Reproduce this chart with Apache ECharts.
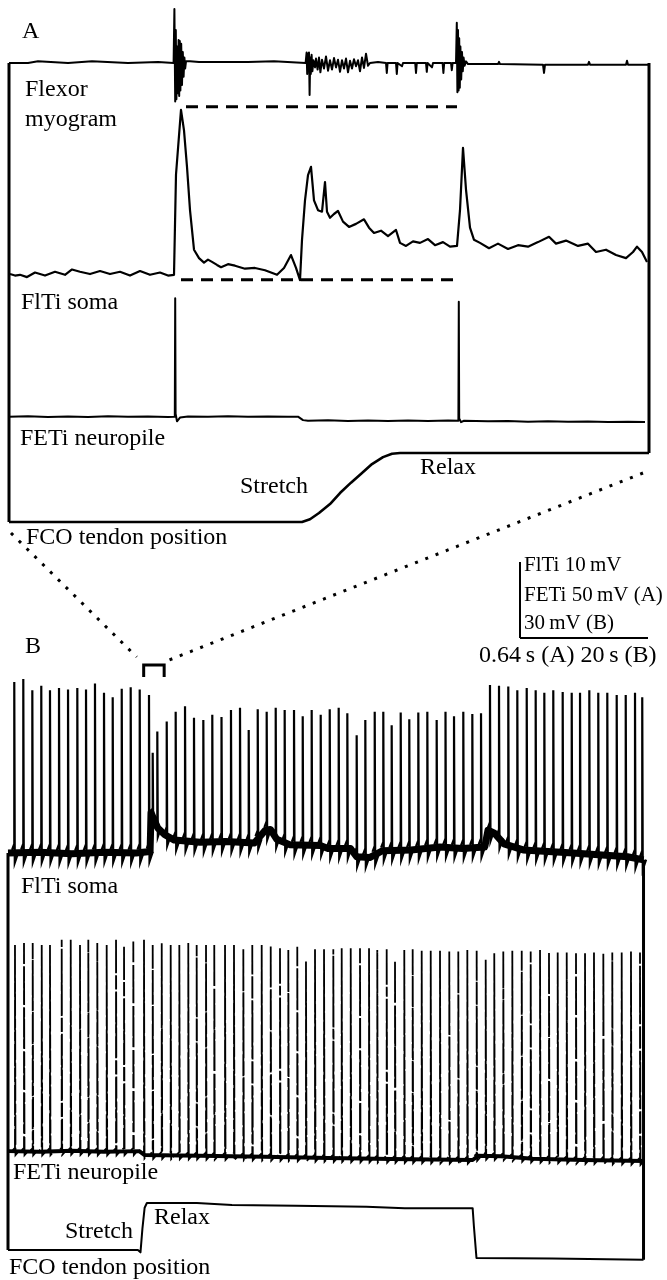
<!DOCTYPE html>
<html>
<head>
<meta charset="utf-8">
<script src="https://cdn.jsdelivr.net/npm/echarts@6.0.0/dist/echarts.min.js"></script>
<style>
html, body { margin: 0; padding: 0; background: #fff; }
#chart { width: 667px; height: 1280px; }
</style>
</head>
<body>
<div id="chart"></div>
<script>
// ---- panel A (time in s, 0.64 s scale bar) ----
// flexor myogram, arbitrary units, baseline 0
var myogramA = [
  [0.005, 0], [0.10, 0], [0.15, 0.03], [0.16, 0], [0.30, 0], [0.42, 0.03], [0.43, 0], [0.60, 0], [0.75, 0.02], [0.76, 0], [0.828, 0],
  [0.832, 0.98], [0.836, -0.7], [0.839, 0.6], [0.842, -0.66], [0.846, 0.3], [0.850, -0.55], [0.853, 0.42], [0.856, -0.6], [0.859, 0.4],
  [0.862, -0.5], [0.866, 0.35], [0.870, -0.4], [0.874, 0.2], [0.878, -0.25], [0.882, 0.1], [0.886, -0.1], [0.890, 0.03], [0.895, 0],
  [0.91, 0.03], [0.915, 0], [0.955, 0.02], [0.96, 0], [1.06, 0.02], [1.065, 0], [1.20, 0.02], [1.205, 0], [1.33, 0.03], [1.335, 0], [1.488, 0],
  [1.493, 0.19], [1.496, -0.2], [1.499, 0.17], [1.502, -0.15], [1.505, 0.19], [1.508, -0.58], [1.511, 0.1], [1.514, -0.2], [1.518, 0.15],
  [1.522, -0.15], [1.527, 0.05], [1.535, -0.08], [1.54, 0.08], [1.548, -0.12], [1.555, 0.1], [1.562, -0.17], [1.57, 0.06], [1.58, -0.1],
  [1.59, 0.12], [1.60, -0.14], [1.61, 0.05], [1.62, -0.12], [1.63, 0.09], [1.64, -0.08], [1.65, 0.06], [1.66, -0.16], [1.67, 0.05],
  [1.68, -0.1], [1.69, 0.08], [1.70, -0.17], [1.71, 0.04], [1.72, -0.1], [1.73, 0.07], [1.74, -0.06], [1.75, 0.05], [1.76, -0.15],
  [1.77, 0.1], [1.78, -0.09], [1.79, 0.17], [1.80, -0.05], [1.81, 0], [1.85, 0.02], [1.89, 0], [1.894, -0.18], [1.898, 0], [1.94, 0],
  [1.944, -0.2], [1.948, 0], [1.97, -0.06], [1.975, 0], [2.036, 0], [2.04, -0.18], [2.044, 0], [2.09, 0], [2.094, -0.16], [2.098, 0],
  [2.12, -0.08], [2.125, 0], [2.173, 0], [2.177, -0.18], [2.181, 0], [2.215, 0], [2.219, -0.13], [2.223, 0], [2.240, 0],
  [2.244, 0.73], [2.247, -0.53], [2.250, 0.6], [2.253, -0.5], [2.256, 0.45], [2.259, -0.45], [2.262, 0.3], [2.266, -0.3], [2.270, 0.2],
  [2.274, -0.15], [2.278, 0.1], [2.283, -0.05], [2.29, 0.03], [2.30, -0.02], [2.45, -0.02], [2.455, 0.02], [2.46, -0.02], [2.675, -0.03],
  [2.68, -0.18], [2.685, -0.03], [2.90, -0.03], [2.905, 0.02], [2.91, -0.03], [3.09, -0.03], [3.095, 0.04], [3.10, -0.03], [3.205, -0.03]
];
// FlTi soma, mV relative to rest
var fltiA = [
  [0.010, 0.1], [0.035, -0.1], [0.060, 0], [0.095, -0.3], [0.135, 0.3], [0.185, -0.1], [0.235, 0.4], [0.285, 0], [0.320, 0.7],
  [0.360, 0.4], [0.410, 0.1], [0.460, 0.5], [0.510, 0.1], [0.560, 0.4], [0.610, -0.1], [0.660, 0.5], [0.710, 0], [0.760, 0.3],
  [0.800, -0.1], [0.830, 0], [0.840, 13.2], [0.865, 21.7], [0.880, 19], [0.895, 14.2], [0.910, 8.5], [0.930, 3.3], [0.955, 2.2],
  [0.980, 1.6], [1.000, 2.0], [1.020, 1.7], [1.045, 1.3], [1.065, 1.0], [1.100, 1.4], [1.135, 1.2], [1.185, 0.8], [1.235, 0.9],
  [1.285, 0.6], [1.345, 0], [1.380, 0.9], [1.415, 2.6], [1.440, 0.9], [1.460, -0.7], [1.470, 4.6], [1.485, 9.8], [1.500, 13.1],
  [1.515, 14.2], [1.530, 9.8], [1.550, 8.5], [1.570, 8.3], [1.585, 12.2], [1.595, 8.3], [1.610, 7.5], [1.630, 8.0], [1.650, 8.4],
  [1.675, 7.0], [1.705, 6.3], [1.740, 6.7], [1.780, 7.3], [1.805, 6.2], [1.830, 5.5], [1.865, 5.8], [1.900, 5.1], [1.940, 5.9],
  [1.960, 4.2], [1.990, 3.8], [2.025, 4.4], [2.060, 4.2], [2.100, 4.7], [2.135, 3.9], [2.175, 4.3], [2.210, 3.7], [2.245, 3.8],
  [2.260, 8.5], [2.275, 16.7], [2.290, 11.2], [2.310, 6.2], [2.330, 4.6], [2.360, 4.2], [2.405, 3.5], [2.450, 4.1], [2.500, 3.4],
  [2.550, 3.9], [2.600, 3.7], [2.650, 4.3], [2.705, 5.0], [2.740, 4.1], [2.790, 4.5], [2.850, 3.8], [2.900, 4.1], [2.940, 3.0],
  [2.990, 3.3], [3.040, 2.6], [3.090, 2.2], [3.125, 3.0], [3.145, 3.7], [3.170, 3.0], [3.195, 1.7]
];
var peakLevelA = [[0.89, 22.1], [2.245, 22.1]];
var restLevelA = [[0.865, -0.65], [2.225, -0.65]];
// FETi neuropile, mV
var fetiA = [
  [0.005, 0], [0.10, 0.3], [0.20, -0.2], [0.30, 0.2], [0.40, -0.1], [0.50, 0.3], [0.60, 0], [0.70, 0.2], [0.80, -0.1], [0.834, 0],
  [0.836, 77.9], [0.838, 2], [0.845, -3.0], [0.860, -0.5], [0.90, 0.2], [1.00, 0], [1.10, 0.3], [1.20, 0], [1.30, 0.2], [1.40, 0],
  [1.45, 0.1], [1.475, -2.2], [1.50, -2.6], [1.60, -2.3], [1.70, -2.8], [1.80, -2.4], [1.90, -2.7], [2.00, -2.5], [2.10, -2.8],
  [2.20, -2.4], [2.252, -2.6], [2.254, 75.6], [2.256, -1], [2.265, -3.5], [2.28, -2.6], [2.40, -3.0], [2.50, -2.8], [2.60, -3.2],
  [2.70, -3.0], [2.80, -3.3], [2.90, -3.1], [3.00, -3.4], [3.10, -3.2], [3.185, -3.5]
];
// FCO tendon position, 0 = start, 1 = end of stretch
var fcoA = [
  [0.005, 0], [1.47, 0], [1.51, 0.04], [1.555, 0.13], [1.61, 0.26], [1.66, 0.42], [1.715, 0.57], [1.77, 0.71], [1.82, 0.84],
  [1.875, 0.94], [1.92, 0.99], [1.96, 1.0], [3.205, 1.0]
];

// ---- panel B (time in s, 20 s scale bar) ----
var fltiBBase = [
  [0, 0], [5, 0.1], [10, -0.1], [15, 0.1], [20, 0], [22.2, 0.2], [22.35, 5.3], [22.7, 4.6], [23.4, 3.3], [24.5, 2.4], [26, 1.7],
  [30, 1.4], [34, 1.5], [38.5, 1.3], [40.2, 3.0], [41, 3.1], [42, 1.8], [44, 1.1], [48.8, 1.0], [50, 0.6], [53.5, 0.6], [54.5, -0.5],
  [56.5, -0.6], [58.5, 0.3], [63, 0.4], [67.5, 0.8], [71, 0.6], [74.5, 0.8], [75, 3.0], [76, 2.6], [77.5, 1.2], [80.5, 0.4],
  [88.3, 0], [96.8, -0.5], [99.3, -0.9]
];
var fltiBSpikeT = [
  0.98, 2.39, 3.80, 5.20, 6.56, 7.97, 9.38, 10.83, 12.19, 13.59, 15.00, 16.36, 17.77, 19.17, 20.58, 22.03,
  22.61, 23.33, 24.80, 26.20, 27.66, 29.06, 30.52, 31.92, 33.36, 34.84, 36.25, 37.61, 39.02, 40.42, 41.83, 43.23, 44.69, 46.05, 47.45,
  48.86, 50.27, 51.67, 53.02, 54.48, 55.83, 57.30, 58.64, 59.95, 61.36, 62.70, 64.11, 65.52, 66.98, 68.36, 69.69, 71.14, 72.55, 73.91,
  75.31, 76.72, 78.17, 79.58, 81.05, 82.45, 83.80, 85.20, 86.67, 88.08, 89.38, 90.83, 92.23, 93.64, 95.11, 96.52, 97.97, 99.1
];
var fltiBSpikePk = [
  22.5, 22.9, 21.4, 22.0, 21.4, 21.7, 21.5, 21.7, 21.5, 22.3, 21.1, 20.5, 21.6, 21.8, 21.5, 20.8,
  13.2, 16.0, 17.3, 18.6, 19.3, 17.8, 17.5, 18.2, 17.9, 18.8, 19.1, 16.2, 18.9, 18.6, 19.1, 18.8, 18.8, 18.0, 18.8,
  18.2, 18.9, 19.1, 18.4, 15.5, 17.5, 18.6, 18.6, 16.8, 18.5, 17.6, 18.5, 18.6, 17.5, 18.6, 18.0, 18.6, 18.3, 18.4,
  22.1, 22.0, 21.9, 21.4, 21.7, 21.4, 21.1, 21.4, 21.2, 21.1, 21.1, 21.4, 21.1, 21.1, 20.8, 20.8, 21.1, 20.5
];
var fetiBBase = [
  [0, 0.2], [5, 0], [10, 0.3], [15, 0], [20.5, 0.2], [21.3, -1.3], [30, -1.6], [40, -2.0], [50, -2.5], [60, -2.9], [72.6, -3.3],
  [73.5, -1.6], [77, -1.8], [82, -2.8], [90, -3.3], [99.3, -3.7]
];
var fetiBSpikeT = [
  1.09, 2.50, 3.86, 5.27, 6.56, 8.39, 9.80, 11.25, 12.55, 13.95, 15.42, 16.88, 18.13, 19.58, 21.25, 22.61, 24.02, 25.42, 26.77,
  28.17, 29.48, 30.94, 32.23, 33.91, 35.31, 36.77, 38.17, 39.64, 41.05, 42.50, 43.80, 45.20, 46.56, 47.97, 49.38, 50.83, 52.14,
  53.55, 55.00, 56.41, 57.70, 59.17, 60.47, 61.92, 63.23, 64.64, 66.05, 67.50, 68.95, 70.36, 71.77, 73.23, 74.64, 75.98, 77.39,
  78.80, 80.27, 81.67, 83.13, 84.53, 85.89, 87.30, 88.75, 90.16, 91.56, 93.02, 94.42, 95.89, 97.34, 98.75
];
var fetiBSpikePk = [
  81.6, 82.3, 82.3, 81.6, 81.6, 83.6, 83.6, 81.6, 83.6, 82.3, 81.6, 83.6, 80.9, 82.9, 83.6, 81.6, 82.3, 81.6, 81.6, 82.3, 81.6, 81.6, 81.6,
  81.6, 81.6, 79.9, 81.6, 81.6, 81.2, 80.3, 79.6, 80.9, 75.0, 79.9, 79.9, 79.9, 80.3, 80.3, 80.3, 80.3, 79.6, 79.9, 75.0, 79.6, 79.9, 79.3, 79.3, 79.3, 79.3,
  79.0, 79.6, 79.3, 75.7, 78.3, 79.0, 79.3, 79.3, 79.0, 79.6, 78.6, 78.6, 78.6, 78.3, 78.3, 78.6, 78.6, 78.6, 78.6, 79.0, 78.6
];
var fcoB = [
  [0, 0], [20.3, 0], [20.7, -0.05], [21.0, 0.45], [21.35, 0.9], [21.7, 1.0], [29.5, 1.0], [35, 0.96], [45, 0.94], [56, 0.92],
  [62, 0.89], [72.6, 0.89], [72.8, 0.5], [73.2, -0.17], [85, -0.18], [99.3, -0.21]
];
var windowB = [21.2, 24.4];   // span of panel A inside B

// scale bar
var scaleTime = 0.64;   // s in A (20 s in B)
var scaleFlTi = 10;     // mV

var FONT = '"Liberation Serif", "Times New Roman", serif';
var chart = echarts.init(document.getElementById('chart'));

// grid layout: [top, height, xmax, ymin, ymax]
var gridDefs = [
  [8, 110, 3.2, -1, 1],          // 0 myogram A
  [100, 190, 3.2, -2, 23],       // 1 FlTi A
  [292, 140, 3.2, -10, 82],      // 2 FETi A
  [453, 69, 3.2, 0, 1],          // 3 FCO A
  [670.6, 212.8, 100, -4, 24],   // 4 FlTi B
  [935, 229.3, 100, -5, 85.5],   // 5 FETi B
  [1203, 61.1, 100, -0.3, 1]     // 6 FCO B
];

function baseAt(arr, t) {
  for (var i = 1; i < arr.length; i++) {
    if (t <= arr[i][0]) {
      var a = arr[i - 1], b = arr[i];
      return a[1] + (b[1] - a[1]) * (t - a[0]) / (b[0] - a[0]);
    }
  }
  return arr[arr.length - 1][1];
}

function trace(gi, data, width, style) {
  return {
    type: 'line', xAxisIndex: gi, yAxisIndex: gi, data: data,
    showSymbol: false, symbol: 'none', clip: false, silent: true, animation: false,
    lineStyle: Object.assign({color: '#000', width: width, join: 'round'}, style || {})
  };
}

// each spike: short rise, vertical stroke to the peak, small undershoot
function spikes(gi, times, peaks, base, ahp, width, dash) {
  return {
    type: 'custom', xAxisIndex: gi, yAxisIndex: gi, clip: false, silent: true, animation: false,
    data: times.map(function (t, i) { return [t, peaks[i]]; }),
    renderItem: function (params, api) {
      var t = api.value(0), pk = api.value(1), b = baseAt(base, t);
      return {
        type: 'polyline',
        shape: {points: [
          api.coord([t - 0.35, b + ahp * 0.3]), api.coord([t, b + ahp * 0.9]), api.coord([t, pk]),
          api.coord([t + 0.08, b - ahp]), api.coord([t + 0.6, b])
        ]},
        style: {stroke: '#000', lineWidth: width, fill: null, lineDash: dash || null,
          lineDashOffset: dash ? params.dataIndex * 7 : 0}
      };
    }
  };
}

chart.setOption({
  animation: false,
  grid: gridDefs.map(function (g) { return {left: 8, width: 640, top: g[0], height: g[1], containLabel: false}; }),
  xAxis: gridDefs.map(function (g, i) { return {type: 'value', gridIndex: i, min: 0, max: g[2], show: false}; }),
  yAxis: gridDefs.map(function (g, i) { return {type: 'value', gridIndex: i, min: g[3], max: g[4], show: false}; }),
  series: [
    trace(0, myogramA, 2),
    trace(1, fltiA, 2.2),
    trace(1, peakLevelA, 3, {type: [12, 8]}),
    trace(1, restLevelA, 3, {type: [12, 8]}),
    trace(2, fetiA, 2),
    trace(3, fcoA, 2.6),
    trace(4, fltiBBase, 7),
    spikes(4, fltiBSpikeT, fltiBSpikePk, fltiBBase, 1.3, 2.2),
    trace(5, fetiBBase, 4),
    spikes(5, fetiBSpikeT, fetiBSpikePk, fetiBBase, 1.5, 1.8, [22, 3, 9, 2, 30, 3, 14, 2]),
    trace(6, fcoB, 2)
  ]
});

// frame lines, zoom bracket, scale bar and labels placed through the axes
function px(gi, v) { return chart.convertToPixel({gridIndex: gi}, v); }
function seg(a, b, w, dash) {
  return {type: 'line', silent: true, shape: {x1: a[0], y1: a[1], x2: b[0], y2: b[1]},
    style: {stroke: '#000', lineWidth: w, lineDash: dash || null}};
}
function label(text, x, y, size) {
  return {type: 'text', silent: true, style: {text: text, x: x, y: y, fill: '#000',
    font: (size || 24) + 'px ' + FONT, align: 'left', verticalAlign: 'middle'}};
}

var aTL = px(0, [0.005, 0]), aBL = px(3, [0.005, 0]);
var aTR = px(0, [3.205, 0]), aBR = px(3, [3.205, 1]);
var bTL = px(4, [0, 0]), bBL = px(6, [0, 0]);
var bTR = px(4, [99.3, -0.9]), bBR = px(6, [99.3, -0.21]);
var brL = px(4, [windowB[0], 0])[0], brR = px(4, [windowB[1], 0])[0];
var barX0 = 520, barY0 = 638;
var barW = px(0, [scaleTime, 0])[0] - px(0, [0, 0])[0];
var barH = px(1, [0, 0])[1] - px(1, [0, scaleFlTi])[1];

chart.setOption({
  graphic: [
    seg(aTL, aBL, 3), seg(aTR, aBR, 3),
    seg(bTL, bBL, 3), seg(bTR, bBR, 3),
    {type: 'polyline', silent: true, shape: {points: [[brL, 677], [brL, 665], [brR, 665], [brR, 677]]},
      style: {stroke: '#000', lineWidth: 3, fill: null}},
    seg([aBL[0] + 2, aBL[1] + 11], [brL - 7, 657], 3, [3, 8]),
    seg([aBR[0] - 6, aBR[1] + 20], [brR + 5, 660], 3, [3, 8]),
    seg([barX0, barY0 - barH], [barX0, barY0], 2),
    seg([barX0, barY0], [barX0 + barW, barY0], 2),
    label('A', 22, 32),
    label('Flexor', 25, 90), label('myogram', 25, 120),
    label('FlTi soma', 21, 303),
    label('FETi neuropile', 20, 439),
    label('Stretch', 240, 487), label('Relax', 420, 468),
    label('FCO tendon position', 26, 538),
    label('FlTi 10\u2009mV', 524, 565, 21),
    label('FETi 50\u2009mV (A)', 524, 595, 21),
    label('30\u2009mV (B)', 524, 623, 21),
    label('0.64\u2009s (A) 20\u2009s (B)', 479, 656, 24),
    label('B', 25, 647),
    label('FlTi soma', 21, 887),
    label('FETi neuropile', 13, 1173),
    label('Stretch', 65, 1232), label('Relax', 154, 1218),
    label('FCO tendon position', 9, 1268)
  ]
});
</script>
</body>
</html>
